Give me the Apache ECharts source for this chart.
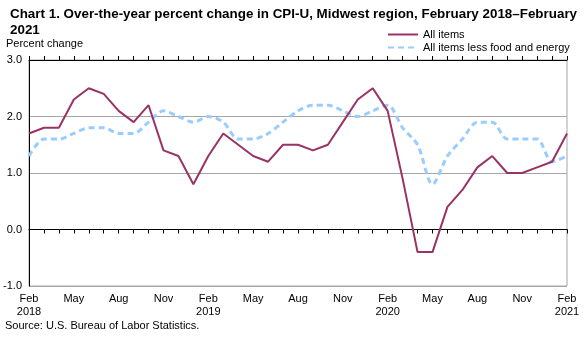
<!DOCTYPE html>
<html>
<head>
<meta charset="utf-8">
<script src="https://cdn.jsdelivr.net/npm/echarts@6/dist/echarts.min.js"></script>
<style>
  html, body { margin: 0; padding: 0; background: #ffffff; }
  #chart { width: 588px; height: 337px; }
</style>
</head>
<body>
<div id="chart"></div>
<script>
// Monthly categories, February 2018 through February 2021
const categories = [
  'Feb 2018', 'Mar 2018', 'Apr 2018', 'May 2018', 'Jun 2018', 'Jul 2018', 'Aug 2018', 'Sep 2018', 'Oct 2018', 'Nov 2018', 'Dec 2018', 'Jan 2019',
  'Feb 2019', 'Mar 2019', 'Apr 2019', 'May 2019', 'Jun 2019', 'Jul 2019', 'Aug 2019', 'Sep 2019', 'Oct 2019', 'Nov 2019', 'Dec 2019', 'Jan 2020',
  'Feb 2020', 'Mar 2020', 'Apr 2020', 'May 2020', 'Jun 2020', 'Jul 2020', 'Aug 2020', 'Sep 2020', 'Oct 2020', 'Nov 2020', 'Dec 2020', 'Jan 2021',
  'Feb 2021'
];

// Over-the-year percent change, CPI-U all items
const allItems = [
  1.7, 1.8, 1.8, 2.3, 2.5, 2.4, 2.1, 1.9, 2.2, 1.4, 1.3, 0.8,
  1.3, 1.7, 1.5, 1.3, 1.2, 1.5, 1.5, 1.4, 1.5, 1.9, 2.3, 2.5,
  2.1, 0.9, -0.4, -0.4, 0.4, 0.7, 1.1, 1.3, 1.0, 1.0, 1.1, 1.2,
  1.7
];

// Over-the-year percent change, all items less food and energy
const coreItems = [
  1.3, 1.6, 1.6, 1.7, 1.8, 1.8, 1.7, 1.7, 1.9, 2.1, 2.0, 1.9,
  2.0, 1.9, 1.6, 1.6, 1.7, 1.9, 2.1, 2.2, 2.2, 2.1, 2.0, 2.1,
  2.2, 1.8, 1.5, 0.8, 1.3, 1.6, 1.9, 1.9, 1.6, 1.6, 1.6, 1.2,
  1.3
];

// Value axis tick labels
const yTicks = [-1.0, 0.0, 1.0, 2.0, 3.0];

const seriesNames = ['All items', 'All items less food and energy'];
const titleText = 'Chart 1. Over-the-year percent change in CPI-U, Midwest region, February 2018\u2013February\n2021';
const sourceText = 'Source: U.S. Bureau of Labor Statistics.';

const FONT = "'Liberation Sans', Arial, sans-serif";
const MAROON = '#993366';
const LIGHT_BLUE = '#99ccff';
const GRID_GRAY = '#a6a6a6';

const chart = echarts.init(document.getElementById('chart'), null, { renderer: 'canvas' });

function monthLabel(v) {
  const parts = v.split(' ');
  return parts[0] === 'Feb' ? parts[0] + '\n' + parts[1] : parts[0];
}

const option = {
  backgroundColor: '#ffffff',
  animation: false,
  textStyle: { fontFamily: FONT },
  title: {
    text: titleText,
    left: 5,
    top: 1,
    textStyle: { fontFamily: FONT, fontSize: 13.4, fontWeight: 'bold', color: '#000000', lineHeight: 16 }
  },
  legend: {
    orient: 'vertical',
    left: 382,
    top: 23,
    itemWidth: 30,
    itemHeight: 8,
    itemGap: 0,
    data: seriesNames,
    itemStyle: { opacity: 0 },
    textStyle: { fontFamily: FONT, fontSize: 11, color: '#000000', lineHeight: 13 }
  },
  graphic: [
    {
      type: 'text', left: 6, top: 38,
      style: { text: 'Percent change', font: '11px ' + FONT, fill: '#000000' }
    },
    {
      type: 'text', left: 5, top: 320,
      style: { text: sourceText, font: '11px ' + FONT, fill: '#000000' }
    }
  ],
  grid: {
    left: 29, right: 21, top: 60, bottom: 51,
    show: true, borderColor: GRID_GRAY, borderWidth: 1, backgroundColor: 'transparent'
  },
  xAxis: [
    {
      // label axis along the bottom of the plot
      type: 'category', data: categories, boundaryGap: false, position: 'bottom',
      axisLine: { show: false, onZero: false },
      axisTick: { show: false },
      splitLine: { show: false },
      axisLabel: {
        interval: 2, margin: 6, fontFamily: FONT, fontSize: 11, color: '#000000', lineHeight: 13,
        formatter: monthLabel
      }
    },
    {
      // zero line with downward ticks
      type: 'category', data: categories, boundaryGap: false, position: 'bottom',
      axisLine: { show: true, onZero: true, lineStyle: { color: '#000000', width: 1 } },
      axisTick: { show: true, interval: 0, inside: false, length: 4, lineStyle: { color: '#000000' } },
      axisLabel: { show: false },
      splitLine: { show: false }
    },
    {
      // upward ticks on the zero line
      type: 'category', data: categories, boundaryGap: false, position: 'top',
      axisLine: { show: true, onZero: true, lineStyle: { color: '#000000', width: 1 } },
      axisTick: { show: true, interval: 0, inside: false, length: 4, lineStyle: { color: '#000000' } },
      axisLabel: { show: false },
      splitLine: { show: false }
    }
  ],
  yAxis: {
    type: 'value',
    min: yTicks[0],
    max: yTicks[yTicks.length - 1],
    interval: 1,
    axisLine: { show: true, lineStyle: { color: '#000000', width: 1 } },
    axisTick: { show: false },
    splitLine: { show: true, lineStyle: { color: GRID_GRAY, width: 1 } },
    axisLabel: {
      margin: 7, fontFamily: FONT, fontSize: 11, color: '#000000',
      formatter: function (v) { return v.toFixed(1); }
    }
  },
  series: [
    {
      name: seriesNames[0],
      type: 'line',
      xAxisIndex: 0,
      data: allItems,
      symbol: 'none',
      lineStyle: { color: MAROON, width: 2 },
      itemStyle: { color: MAROON },
      z: 4
    },
    {
      name: seriesNames[1],
      type: 'line',
      xAxisIndex: 0,
      data: coreItems,
      symbol: 'none',
      smooth: 0.3,
      lineStyle: { color: LIGHT_BLUE, width: 3, type: [6, 4] },
      itemStyle: { color: LIGHT_BLUE },
      z: 3
    }
  ]
};

chart.setOption(option);
</script>
</body>
</html>
